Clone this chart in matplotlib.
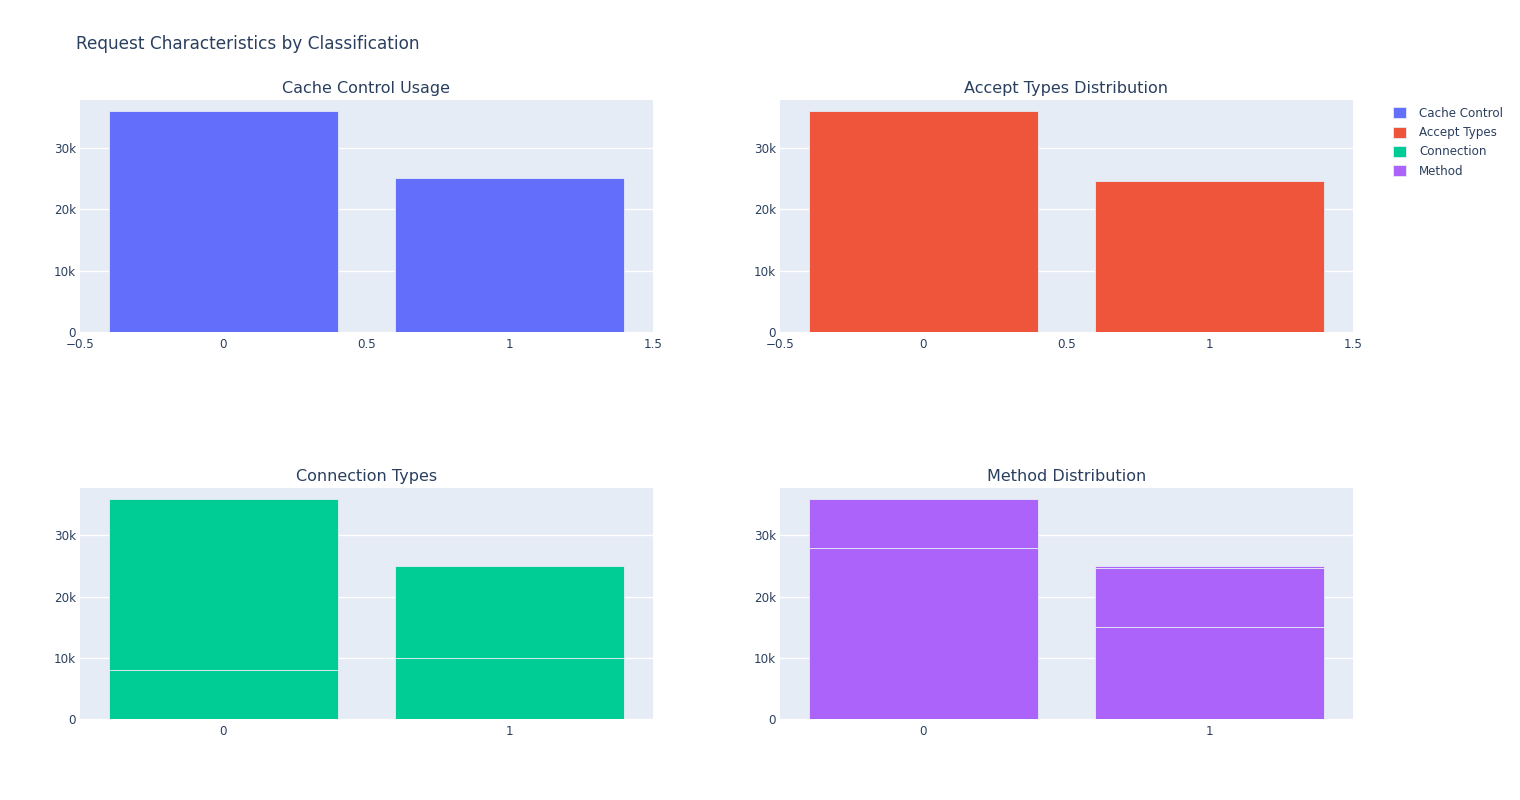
import matplotlib
matplotlib.use("Agg")
import matplotlib.pyplot as plt
from matplotlib.patches import Patch
from matplotlib.ticker import FuncFormatter

plt.rcParams['font.family'] = ['DejaVu Sans']

# classes on the x axis
classes = [0, 1]

# stacked segments per class (bottom to top)
cache_control = [[35950], [25050]]
accept_types = [[35950], [24550]]
connection = [[7950, 28000], [10000, 15050]]
method = [[28000, 7950], [15100, 9550, 400]]

titles = ["Cache Control Usage", "Accept Types Distribution",
          "Connection Types", "Method Distribution"]
names = ["Cache Control", "Accept Types", "Connection", "Method"]
colors = ["#636EFA", "#EF553B", "#00CC96", "#AB63FA"]

TXT = "#2a3f5f"
BG = "#E5ECF6"
W, H = 1520, 800

fig = plt.figure(figsize=(W / 100, H / 100), dpi=100)


def px_axes(x0, y0, x1, y1):
    # pixel box (top-left origin) -> figure fraction
    return fig.add_axes([x0 / W, 1 - y1 / H, (x1 - x0) / W, (y1 - y0) / H])


def kfmt(v, _):
    if v == 0:
        return "0"
    return f"{v / 1000:g}k"


boxes = [(80, 100, 653, 332), (780, 100, 1353, 332),
         (80, 488, 653, 719), (780, 488, 1353, 719)]
series = [cache_control, accept_types, connection, method]

for i, (box, data, title, col) in enumerate(zip(boxes, series, titles, colors)):
    ax = px_axes(*box)
    ax.set_facecolor(BG)
    for x, segs in zip(classes, data):
        bottom = 0
        for s in segs:
            ax.bar(x, s, width=0.8, bottom=bottom, color=col,
                   edgecolor=BG, linewidth=0.6, zorder=3)
            bottom += s
    ymax = max(sum(s) for s in data) * 1.05
    ax.set_ylim(0, ymax)
    ax.set_xlim(-0.5, 1.5)
    ax.set_yticks([0, 10000, 20000, 30000])
    ax.yaxis.set_major_formatter(FuncFormatter(kfmt))
    if i < 2:
        ax.set_xticks([-0.5, 0, 0.5, 1, 1.5])
        ax.set_xticklabels(["\u22120.5", "0", "0.5", "1", "1.5"])
    else:
        ax.set_xticks(classes)
        ax.set_xticklabels([str(c) for c in classes])
    ax.grid(axis='y', color='white', linewidth=1, zorder=0)
    ax.set_axisbelow(True)
    for sp in ax.spines.values():
        sp.set_visible(False)
    ax.tick_params(length=0, labelsize=8.6, colors=TXT)
    ax.tick_params(axis='y', pad=3)
    ax.tick_params(axis='x', pad=4)
    ax.set_title(title, fontsize=11.5, color=TXT, pad=5)

fig.text(76 / W, 1 - 44 / H, "Request Characteristics by Classification",
         fontsize=12.2, color=TXT, va='center', ha='left')

handles = [Patch(facecolor=c, edgecolor=BG, linewidth=0.6) for c in colors]
fig.legend(handles, names, loc='upper left',
           bbox_to_anchor=(1393 / W, 1 - 107 / H), frameon=False,
           fontsize=8.6, labelcolor=TXT, handlelength=1.05, handleheight=1.05,
           handletextpad=1.15, labelspacing=0.52, borderaxespad=0,
           borderpad=0)

fig.savefig("out.png", dpi=100, facecolor='white')
